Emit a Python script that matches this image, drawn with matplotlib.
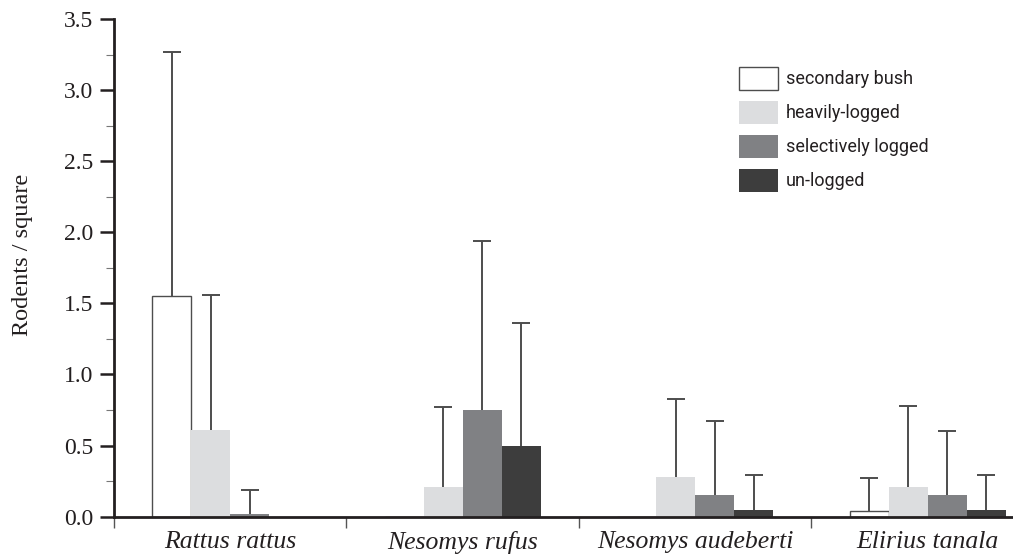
import numpy as np
import matplotlib
matplotlib.use('Agg')
import matplotlib.pyplot as plt
from matplotlib.ticker import MultipleLocator, FixedLocator

# Mean rodents per square and top of the error bar
species = ['Rattus rattus', 'Nesomys rufus', 'Nesomys audeberti', 'Elirius tanala']
habitats = ['secondary bush', 'heavily-logged', 'selectively logged', 'un-logged']

secondary_bush = [1.55, 0.0, 0.0, 0.04]
heavily_logged = [0.61, 0.21, 0.28, 0.21]
selectively_logged = [0.02, 0.75, 0.15, 0.15]
un_logged = [0.0, 0.50, 0.05, 0.05]

secondary_bush_top = [3.27, np.nan, np.nan, 0.27]
heavily_logged_top = [1.56, 0.77, 0.83, 0.78]
selectively_logged_top = [0.19, 1.94, 0.67, 0.60]
un_logged_top = [np.nan, 1.36, 0.29, 0.29]

means = [secondary_bush, heavily_logged, selectively_logged, un_logged]
tops = [secondary_bush_top, heavily_logged_top, selectively_logged_top, un_logged_top]

fills = ['white', '#dcdddf', '#808184', '#3d3d3d']
edges = ['#4d4d4d', 'none', 'none', 'none']

serif = ['Liberation Serif', 'DejaVu Serif']
sans = ['Roboto', 'DejaVu Sans']

fig = plt.figure(figsize=(10.13, 5.56), dpi=100)
ax = fig.add_axes([0.1125, 0.0707, 0.8875, 0.8951])

x = np.arange(len(species))
width = 0.168

for k in range(4):
    pos = x + (k - 1.5) * width
    m = np.array(means[k])
    t = np.array(tops[k])
    ax.bar(pos, m, width=width, color=fills[k], edgecolor=edges[k],
           linewidth=1.0, label=habitats[k], zorder=3)
    ok = ~np.isnan(t)
    err = np.vstack([np.zeros(ok.sum()), t[ok] - m[ok]])
    eb = ax.errorbar(pos[ok], m[ok], yerr=err, fmt='none', ecolor='#4d4d4d',
                     elinewidth=1.4, capsize=6.4, capthick=1.4, zorder=2)
    # only the upper cap is drawn in the original
    eb[1][0].set_visible(False)

ax.set_xlim(-0.5, 3.367)
ax.set_ylim(0, 3.5)

for s in ['top', 'right']:
    ax.spines[s].set_visible(False)
for s in ['left', 'bottom']:
    ax.spines[s].set_linewidth(2.0)
    ax.spines[s].set_color('#231f20')
ax.spines['bottom'].set_zorder(4)

yt = np.arange(0, 3.51, 0.5)
ax.set_yticks(yt)
ax.set_yticklabels([f'{v:.1f}' for v in yt], family=serif, fontsize=17,
                   color='#231f20')
ax.yaxis.set_minor_locator(MultipleLocator(0.25))
ax.tick_params(axis='y', which='major', direction='out', length=10, width=1.8,
               color='#231f20', pad=5)
ax.tick_params(axis='y', which='minor', direction='out', length=6, width=0.8,
               color='#777777')

ax.set_xticks(x)
ax.set_xticklabels(species, family=serif, style='italic', fontsize=18.5,
                   color='#231f20')
ax.tick_params(axis='x', which='major', length=0, pad=10)
ax.xaxis.set_minor_locator(FixedLocator([-0.5, 0.5, 1.5, 2.5]))
ax.tick_params(axis='x', which='minor', direction='out', length=8, width=1.0,
               color='#555555')

ax.set_ylabel('Rodents / square', family=serif, fontsize=17.5, color='#231f20')
ax.yaxis.set_label_coords(-0.09, 0.526)

leg = ax.legend(loc='upper left', bbox_to_anchor=(739 / 1013, 1 - 67 / 556),
                bbox_transform=fig.transFigure, frameon=False,
                prop={'family': sans, 'size': 13},
                handlelength=2.16, handleheight=1.59, labelspacing=0.6,
                handletextpad=0.45, borderpad=0, borderaxespad=0)
for txt in leg.get_texts():
    txt.set_color('#231f20')

fig.savefig('out.png', dpi=100)
